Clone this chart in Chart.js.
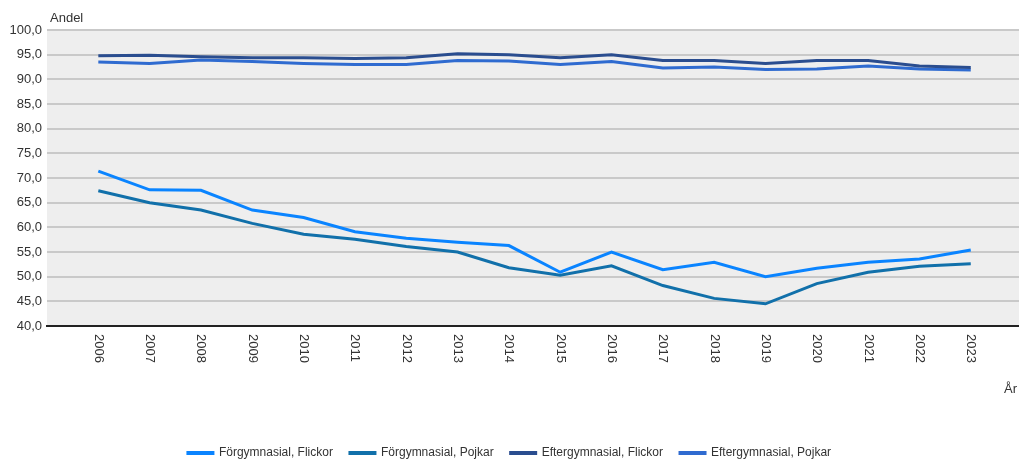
<!DOCTYPE html>
<html>
<head>
<meta charset="utf-8">
<script src="https://cdn.jsdelivr.net/npm/chart.js@4.4.1/dist/chart.umd.min.js"></script>
<style>
  html, body { margin: 0; padding: 0; background: #ffffff; overflow: hidden; }
  #wrap { width: 1019px; height: 460px; position: relative; overflow: hidden; }
</style>
</head>
<body>
<div id="wrap"><canvas id="c" width="1019" height="469"></canvas></div>
<script>
const years = [2006, 2007, 2008, 2009, 2010, 2011, 2012, 2013, 2014, 2015, 2016, 2017, 2018, 2019, 2020, 2021, 2022, 2023];
const seriesNames = ['Förgymnasial, Flickor', 'Förgymnasial, Pojkar', 'Eftergymnasial, Flickor', 'Eftergymnasial, Pojkar'];
const forgymFlickor = [71.4, 67.6, 67.5, 63.5, 62.0, 59.1, 57.8, 57.0, 56.3, 50.9, 55.0, 51.4, 52.9, 50.0, 51.7, 52.9, 53.6, 55.4];
const forgymPojkar  = [67.4, 65.0, 63.5, 60.8, 58.6, 57.6, 56.1, 55.0, 51.8, 50.3, 52.2, 48.2, 45.6, 44.5, 48.6, 50.9, 52.1, 52.6];
const eftergymFlickor = [94.8, 94.9, 94.6, 94.4, 94.4, 94.2, 94.4, 95.2, 95.0, 94.4, 95.0, 93.8, 93.8, 93.2, 93.8, 93.8, 92.7, 92.4];
const eftergymPojkar  = [93.5, 93.2, 93.9, 93.6, 93.2, 93.0, 93.0, 93.8, 93.7, 93.0, 93.6, 92.3, 92.5, 92.0, 92.1, 92.7, 92.1, 91.9];
const yTicks = [40, 45, 50, 55, 60, 65, 70, 75, 80, 85, 90, 95, 100];
const yAxisTitle = 'Andel';
const xAxisTitle = 'År';

const colors = ['#0a84ff', '#1170aa', '#2a4d8f', '#2f6bd0'];
const allSeries = [forgymFlickor, forgymPojkar, eftergymFlickor, eftergymPojkar];
const FONT = '"Liberation Sans", Arial, sans-serif';

const datasets = allSeries.map((vals, i) => ({
  label: seriesNames[i],
  data: vals.map((v, j) => ({ x: years[j], y: v })),
  borderColor: colors[i],
  backgroundColor: colors[i],
  borderWidth: 3,
  pointRadius: 0,
  pointHoverRadius: 0,
  tension: 0,
  fill: false
}));

const decorPlugin = {
  id: 'decor',
  beforeDraw(chart) {
    const a = chart.chartArea, ctx = chart.ctx;
    ctx.save();
    ctx.fillStyle = '#eeeeee';
    ctx.fillRect(a.left, a.top, a.right - a.left, a.bottom - a.top);
    ctx.restore();
  },
  afterDraw(chart) {
    const ctx = chart.ctx, xs = chart.scales.x, a = chart.chartArea;
    ctx.save();
    ctx.fillStyle = '#333333';
    ctx.font = '13px ' + FONT;
    years.forEach(y => {
      const px = xs.getPixelForValue(y);
      ctx.save();
      ctx.translate(px, a.bottom + 8);
      ctx.rotate(Math.PI / 2);
      ctx.textAlign = 'left';
      ctx.textBaseline = 'middle';
      ctx.fillText(String(y), 0, 0);
      ctx.restore();
    });
    ctx.textAlign = 'left';
    ctx.textBaseline = 'middle';
    ctx.fillText(yAxisTitle, a.left + 3, a.top - 12);
    ctx.fillText(xAxisTitle, 1004, 389);
    ctx.restore();
  }
};

new Chart(document.getElementById('c'), {
  type: 'line',
  data: { datasets },
  plugins: [decorPlugin],
  options: {
    responsive: false,
    animation: false,
    layout: { padding: { top: 30, right: 0, left: 0, bottom: 0 } },
    plugins: {
      tooltip: { enabled: false },
      legend: {
        position: 'bottom',
        labels: {
          boxWidth: 25,
          boxHeight: 1,
          padding: 17,
          color: '#333333',
          font: { family: FONT, size: 12 }
        }
      }
    },
    scales: {
      x: {
        type: 'linear',
        min: 2005,
        max: 2023.94,
        grid: { display: false, drawTicks: false },
        border: { display: true, color: '#222222', width: 2 },
        ticks: { display: false },
        afterFit(scale) { scale.height = 104; }
      },
      y: {
        min: 40,
        max: 100,
        afterBuildTicks(scale) { scale.ticks = yTicks.map(v => ({ value: v })); },
        grid: { color: '#c9c9c9', lineWidth: 2, drawTicks: false },
        border: { display: false },
        ticks: {
          padding: 5,
          color: '#333333',
          font: { family: FONT, size: 13 },
          callback: v => v.toFixed(1).replace('.', ',')
        },
        afterFit(scale) { scale.width = 47; }
      }
    }
  }
});
</script>
</body>
</html>
